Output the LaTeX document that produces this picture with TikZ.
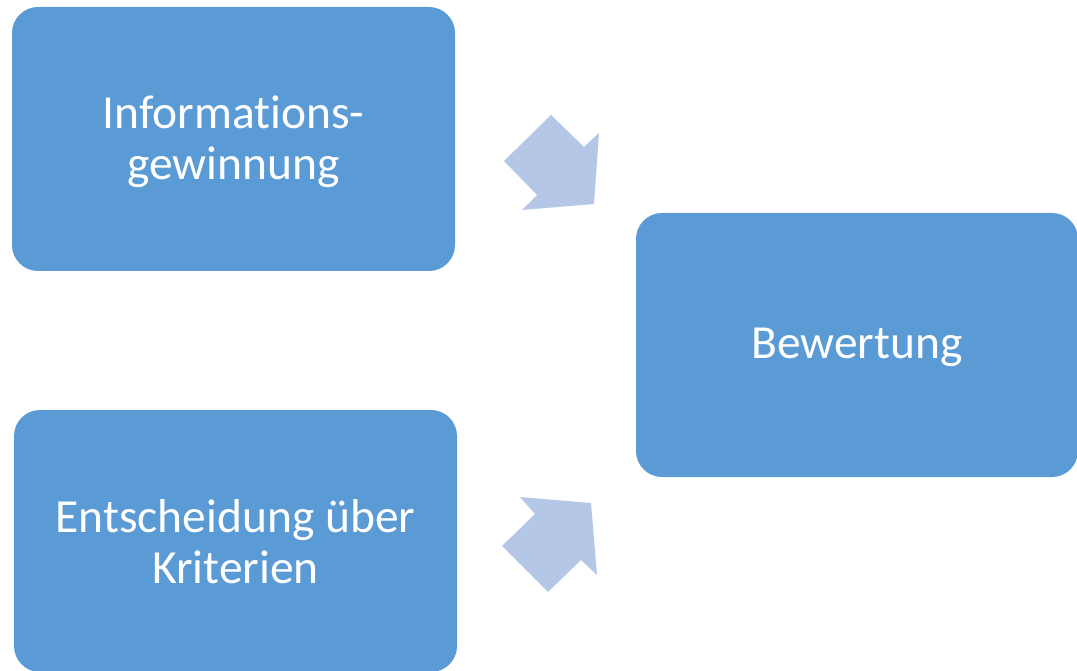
\documentclass[tikz,border=0pt]{standalone}
\usepackage{fontspec}
\setmainfont{Carlito}[Ligatures=NoCommon]
\definecolor{boxblue}{HTML}{5B9BD5}
\definecolor{arrowblue}{HTML}{B4C7E7}
\begin{document}
\begin{tikzpicture}[x=1pt,y=-1pt,
  stagebox/.style={fill=boxblue, draw=none, rounded corners=26pt, text=white,
    align=center, font=\fontsize{47.5}{51}\selectfont, inner sep=0pt},
  boxtext/.style={text=white, align=center, font=\fontsize{47.5}{51}\selectfont, inner sep=0pt},
  bigarrow/.style={fill=arrowblue, draw=none}]
\useasboundingbox (0,0) rectangle (1077,671);
\fill[white] (0,0) rectangle (1077,671);
\node[stagebox, minimum width=443pt, minimum height=264pt] (info) at (233.5,139) {};
\node[boxtext] (infotext) at (233.5,142) {Informations-\\gewinnung};
\node[stagebox, minimum width=443pt, minimum height=262pt] (entsch) at (235.5,541) {};
\node[boxtext] (entschtext) at (235.5,542) {Entscheidung über\\Kriterien};
\node[stagebox, minimum width=442pt, minimum height=264pt] (bew) at (857,345) {};
\node[boxtext] (bewtext) at (857,347) {Bewertung};
\fill[bigarrow] (504,161) -- (551,115) -- (584,147) -- (599,133) -- (594,204) -- (522,210) -- (537,195) -- cycle;
\fill[bigarrow] (520,497) -- (591,503) -- (597,575) -- (581,560) -- (548,592) -- (502,546) -- (535,514) -- cycle;
\end{tikzpicture}
\end{document}
